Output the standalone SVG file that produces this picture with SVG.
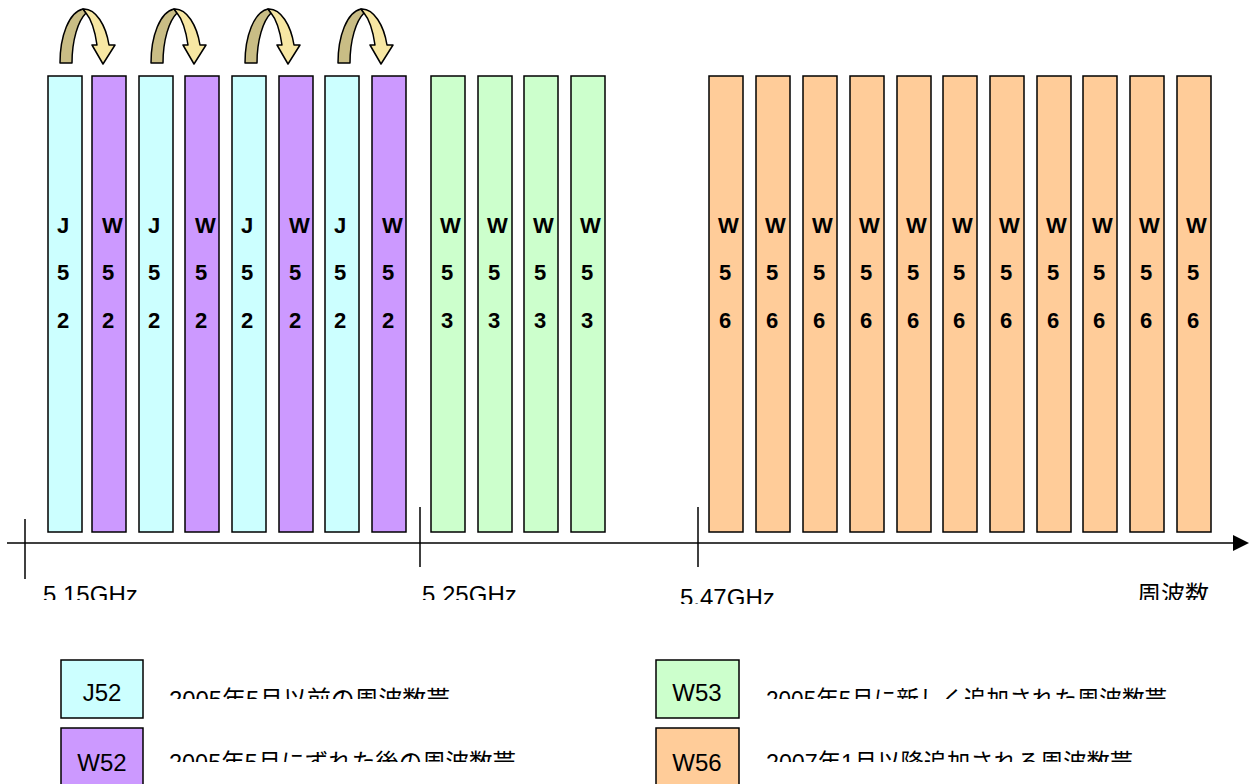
<svg xmlns="http://www.w3.org/2000/svg" width="1254" height="784" viewBox="0 0 1254 784">
  <style>
    .bar { stroke: #000; stroke-width: 1.5; }
    .j52 { fill: #CCFFFF; }
    .w52 { fill: #CC99FF; }
    .w53 { fill: #CCFFCC; }
    .w56 { fill: #FFCC99; }
    .lbl { font-family: "Liberation Sans", Arial, sans-serif; font-weight: bold; font-size: 22px; fill: #000; }
    .axis { stroke: #000; stroke-width: 1.5; fill: none; }
    .tick { font-family: "Liberation Sans", "Noto Sans CJK JP", sans-serif; font-size: 24px; fill: #000; }
    .key { font-family: "Liberation Sans", Arial, sans-serif; font-size: 24px; fill: #000; text-anchor: middle; }
    .desc { font-family: "Liberation Sans", "Noto Sans CJK JP", sans-serif; font-size: 24px; fill: #000; }
    .back { fill: #C9BD85; stroke: #000; stroke-width: 1.5; stroke-linejoin: round; }
    .front { fill: #F7E7A3; stroke: #000; stroke-width: 1.5; stroke-linejoin: round; }
  </style>
  <defs>
    <!-- curved block arrow: dark back leg, light front leg with head -->
    <g id="hop">
      <path class="back" d="M60,63 C60,36 69,12 83,9 L86,13 C78,21 72,40 72,63 Z"/>
      <path class="front" d="M83,9 C96,8 106,26 109,45 L115,45 L103,64 L92,45 L97,45 C95,31 91,19 86,13 Z"/>
    </g>
    <clipPath id="clipA"><rect x="0" y="560" width="660" height="40"/></clipPath>
    <clipPath id="clipB"><rect x="660" y="560" width="300" height="44"/></clipPath>
    <clipPath id="clipC"><rect x="1100" y="560" width="154" height="40"/></clipPath>
    <clipPath id="clipRow1"><rect x="150" y="670" width="1104" height="29"/></clipPath>
    <clipPath id="clipRow2"><rect x="150" y="735" width="1104" height="27"/></clipPath>
  </defs>

  <!-- 5.15-5.25 GHz band: J52 / W52 pairs -->
  <g id="ch-j52-1"><rect class="bar j52" x="48" y="76" width="34" height="456"/><text class="lbl"><tspan x="57" y="233">J</tspan><tspan x="57" y="280">5</tspan><tspan x="57" y="328">2</tspan></text></g>
  <g id="ch-w52-1"><rect class="bar w52" x="92" y="76" width="34" height="456"/><text class="lbl"><tspan x="102" y="233">W</tspan><tspan x="102" y="280">5</tspan><tspan x="102" y="328">2</tspan></text></g>
  <g id="ch-j52-2"><rect class="bar j52" x="139" y="76" width="34" height="456"/><text class="lbl"><tspan x="148" y="233">J</tspan><tspan x="148" y="280">5</tspan><tspan x="148" y="328">2</tspan></text></g>
  <g id="ch-w52-2"><rect class="bar w52" x="185" y="76" width="34" height="456"/><text class="lbl"><tspan x="195" y="233">W</tspan><tspan x="195" y="280">5</tspan><tspan x="195" y="328">2</tspan></text></g>
  <g id="ch-j52-3"><rect class="bar j52" x="232" y="76" width="34" height="456"/><text class="lbl"><tspan x="241" y="233">J</tspan><tspan x="241" y="280">5</tspan><tspan x="241" y="328">2</tspan></text></g>
  <g id="ch-w52-3"><rect class="bar w52" x="279" y="76" width="34" height="456"/><text class="lbl"><tspan x="289" y="233">W</tspan><tspan x="289" y="280">5</tspan><tspan x="289" y="328">2</tspan></text></g>
  <g id="ch-j52-4"><rect class="bar j52" x="325" y="76" width="34" height="456"/><text class="lbl"><tspan x="334" y="233">J</tspan><tspan x="334" y="280">5</tspan><tspan x="334" y="328">2</tspan></text></g>
  <g id="ch-w52-4"><rect class="bar w52" x="372" y="76" width="34" height="456"/><text class="lbl"><tspan x="382" y="233">W</tspan><tspan x="382" y="280">5</tspan><tspan x="382" y="328">2</tspan></text></g>

  <!-- 5.25-5.35 GHz band: W53 -->
  <g id="ch-w53-1"><rect class="bar w53" x="431" y="76" width="34" height="456"/><text class="lbl"><tspan x="440" y="233">W</tspan><tspan x="441" y="280">5</tspan><tspan x="441" y="328">3</tspan></text></g>
  <g id="ch-w53-2"><rect class="bar w53" x="478" y="76" width="34" height="456"/><text class="lbl"><tspan x="487" y="233">W</tspan><tspan x="488" y="280">5</tspan><tspan x="488" y="328">3</tspan></text></g>
  <g id="ch-w53-3"><rect class="bar w53" x="524" y="76" width="34" height="456"/><text class="lbl"><tspan x="533" y="233">W</tspan><tspan x="534" y="280">5</tspan><tspan x="534" y="328">3</tspan></text></g>
  <g id="ch-w53-4"><rect class="bar w53" x="571" y="76" width="34" height="456"/><text class="lbl"><tspan x="580" y="233">W</tspan><tspan x="581" y="280">5</tspan><tspan x="581" y="328">3</tspan></text></g>

  <!-- 5.47-5.725 GHz band: W56 -->
  <g id="ch-w56-1"><rect class="bar w56" x="709" y="76" width="34" height="456"/><text class="lbl"><tspan x="718" y="233">W</tspan><tspan x="719" y="280">5</tspan><tspan x="719" y="328">6</tspan></text></g>
  <g id="ch-w56-2"><rect class="bar w56" x="756" y="76" width="34" height="456"/><text class="lbl"><tspan x="765" y="233">W</tspan><tspan x="766" y="280">5</tspan><tspan x="766" y="328">6</tspan></text></g>
  <g id="ch-w56-3"><rect class="bar w56" x="803" y="76" width="34" height="456"/><text class="lbl"><tspan x="812" y="233">W</tspan><tspan x="813" y="280">5</tspan><tspan x="813" y="328">6</tspan></text></g>
  <g id="ch-w56-4"><rect class="bar w56" x="850" y="76" width="34" height="456"/><text class="lbl"><tspan x="859" y="233">W</tspan><tspan x="860" y="280">5</tspan><tspan x="860" y="328">6</tspan></text></g>
  <g id="ch-w56-5"><rect class="bar w56" x="897" y="76" width="34" height="456"/><text class="lbl"><tspan x="906" y="233">W</tspan><tspan x="907" y="280">5</tspan><tspan x="907" y="328">6</tspan></text></g>
  <g id="ch-w56-6"><rect class="bar w56" x="943" y="76" width="34" height="456"/><text class="lbl"><tspan x="952" y="233">W</tspan><tspan x="953" y="280">5</tspan><tspan x="953" y="328">6</tspan></text></g>
  <g id="ch-w56-7"><rect class="bar w56" x="990" y="76" width="34" height="456"/><text class="lbl"><tspan x="999" y="233">W</tspan><tspan x="1000" y="280">5</tspan><tspan x="1000" y="328">6</tspan></text></g>
  <g id="ch-w56-8"><rect class="bar w56" x="1037" y="76" width="34" height="456"/><text class="lbl"><tspan x="1046" y="233">W</tspan><tspan x="1047" y="280">5</tspan><tspan x="1047" y="328">6</tspan></text></g>
  <g id="ch-w56-9"><rect class="bar w56" x="1083" y="76" width="34" height="456"/><text class="lbl"><tspan x="1092" y="233">W</tspan><tspan x="1093" y="280">5</tspan><tspan x="1093" y="328">6</tspan></text></g>
  <g id="ch-w56-10"><rect class="bar w56" x="1130" y="76" width="34" height="456"/><text class="lbl"><tspan x="1139" y="233">W</tspan><tspan x="1140" y="280">5</tspan><tspan x="1140" y="328">6</tspan></text></g>
  <g id="ch-w56-11"><rect class="bar w56" x="1177" y="76" width="34" height="456"/><text class="lbl"><tspan x="1186" y="233">W</tspan><tspan x="1187" y="280">5</tspan><tspan x="1187" y="328">6</tspan></text></g>

  <!-- channel shift arrows J52 -> W52 -->
  <g id="connectors">
    <use href="#hop"/>
    <use href="#hop" transform="translate(91,0)"/>
    <use href="#hop" transform="translate(185,0)"/>
    <use href="#hop" transform="translate(278,0)"/>
  </g>

  <!-- frequency axis -->
  <g id="axis">
    <line class="axis" x1="7" y1="543" x2="1236" y2="543"/>
    <polygon points="1233,535 1249,543 1233,551" fill="#000"/>
    <line class="axis" x1="25" y1="519" x2="25" y2="579"/>
    <line class="axis" x1="420" y1="507" x2="420" y2="567"/>
    <line class="axis" x1="698" y1="507" x2="698" y2="567"/>
    <g clip-path="url(#clipA)">
      <text class="tick" x="43" y="603">5.15GHz</text>
      <text class="tick" x="422" y="603">5.25GHz</text>
    </g>
    <g clip-path="url(#clipB)">
      <text class="tick" x="680" y="606">5.47GHz</text>
    </g>
    <g clip-path="url(#clipC)">
      <text class="tick" x="1137" y="603">周波数</text>
    </g>
  </g>

  <!-- legend -->
  <g id="legend-j52">
    <rect class="bar j52" x="61" y="660" width="82" height="58"/>
    <text class="key" x="102" y="701">J52</text>
    <text class="desc" x="169" y="708" clip-path="url(#clipRow1)" textLength="281" lengthAdjust="spacingAndGlyphs">2005年5月以前の周波数帯</text>
  </g>
  <g id="legend-w52">
    <rect class="bar w52" x="61" y="728" width="82" height="70"/>
    <text class="key" x="102" y="771">W52</text>
    <text class="desc" x="169" y="771" clip-path="url(#clipRow2)" textLength="347" lengthAdjust="spacingAndGlyphs">2005年5月にずれた後の周波数帯</text>
  </g>
  <g id="legend-w53">
    <rect class="bar w53" x="656" y="660" width="83" height="58"/>
    <text class="key" x="697" y="701">W53</text>
    <text class="desc" x="766" y="708" clip-path="url(#clipRow1)" textLength="401" lengthAdjust="spacingAndGlyphs">2005年5月に新しく追加された周波数帯</text>
  </g>
  <g id="legend-w56">
    <rect class="bar w56" x="656" y="728" width="83" height="70"/>
    <text class="key" x="697" y="771">W56</text>
    <text class="desc" x="766" y="771" clip-path="url(#clipRow2)" textLength="367" lengthAdjust="spacingAndGlyphs">2007年1月以降追加される周波数帯</text>
  </g>
</svg>
